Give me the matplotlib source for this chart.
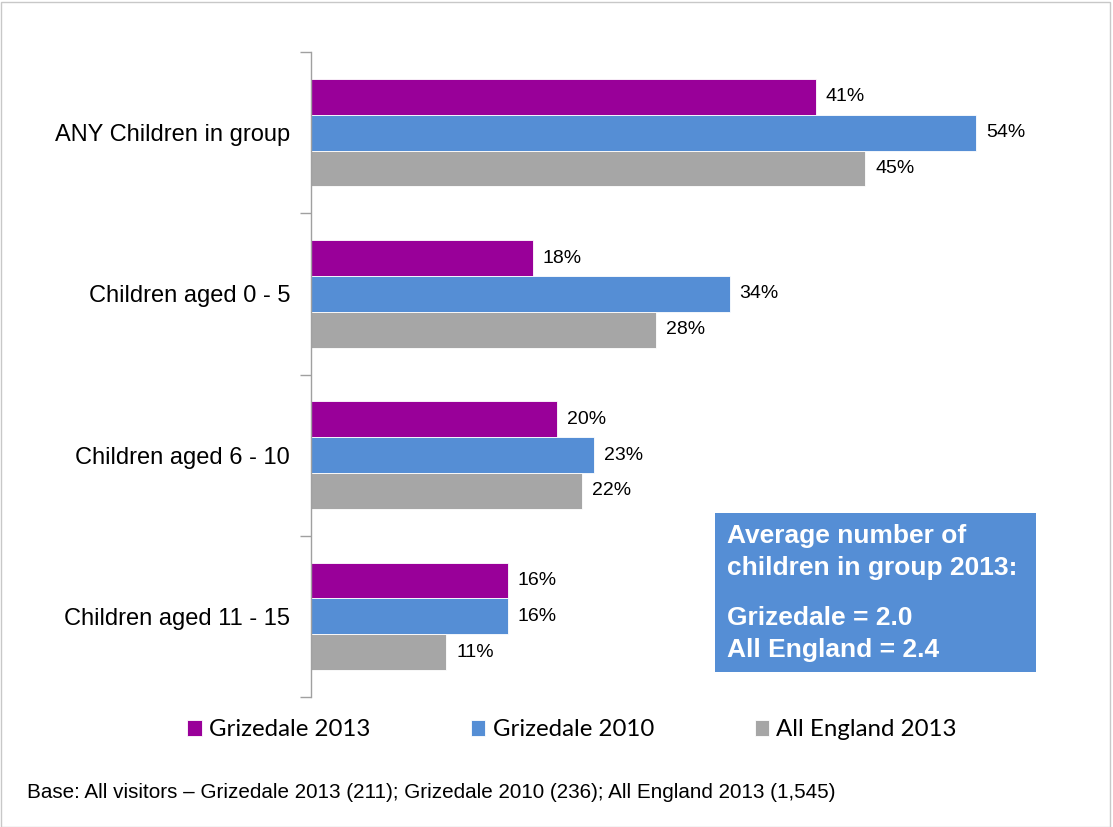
import matplotlib
matplotlib.use("Agg")
import matplotlib.pyplot as plt
from matplotlib.patches import Rectangle
import numpy as np

categories = ["ANY Children in group", "Children aged 0 - 5", "Children aged 6 - 10", "Children aged 11 - 15"]
series_names = ["Grizedale 2013", "Grizedale 2010", "All England 2013"]
grizedale_2013 = [41, 18, 20, 16]
grizedale_2010 = [54, 34, 23, 16]
all_england_2013 = [45, 28, 22, 11]
colors = ["#990099", "#558ED5", "#A6A6A6"]

plt.rcParams['font.family'] = ['Liberation Sans', 'DejaVu Sans']

fig = plt.figure(figsize=(11.13, 8.27), dpi=100)
W, H = 1113, 827
ax = fig.add_axes([311 / W, 1 - 697 / H, (1050 - 311) / W, (697 - 52) / H])

y = np.arange(len(categories))
h = 0.222
for i, (vals, c) in enumerate(zip([grizedale_2013, grizedale_2010, all_england_2013], colors)):
    pos = y + (i - 1) * h
    ax.barh(pos, vals, height=h, color=c, edgecolor='white', linewidth=0.6, label=series_names[i])
    for p, v in zip(pos, vals):
        ax.text(v + 0.8, p, f"{v}%", va='center', ha='left', fontsize=14, color='black')

ax.set_xlim(0, 60)
ax.set_ylim(3.5, -0.5)
ax.set_xticks([])
ax.set_yticks(np.arange(-0.5, 4, 1))
ax.set_yticklabels([])
ax.set_yticks(y, minor=True)
ax.set_yticklabels(categories, minor=True, fontsize=17)
ax.tick_params(axis='y', which='major', length=8, color='#A0A0A0', width=1)
ax.tick_params(axis='y', which='minor', length=0, pad=15)
for s in ['top', 'right', 'bottom']:
    ax.spines[s].set_visible(False)
ax.spines['left'].set_color('#A0A0A0')
ax.spines['left'].set_linewidth(1)

# Info box
box = Rectangle((715 / W, 1 - 672 / H), (1036 - 715) / W, (672 - 513) / H,
                transform=fig.transFigure, facecolor='#558ED5', edgecolor='none', zorder=5)
fig.patches.append(box)
box_lines = [("Average number of", 536), ("children in group 2013:", 568),
             ("Grizedale = 2.0", 618), ("All England = 2.4", 650)]
for txt, yy in box_lines:
    fig.text(727 / W, 1 - yy / H, txt, transform=fig.transFigure,
             color='white', fontsize=19, fontweight='bold', va='center', ha='left', zorder=6)

# Legend
handles, labels = ax.get_legend_handles_labels()
leg = fig.legend(handles, labels, loc='center', bbox_to_anchor=(572 / W, 1 - 730 / H), ncol=3,
                 frameon=False, prop={'family': 'Lato', 'size': 17.3}, handlelength=0.6,
                 handleheight=0.6, columnspacing=4.2, handletextpad=0.3)

fig.text(27 / W, 1 - 793 / H, "Base: All visitors \u2013 Grizedale 2013 (211); Grizedale 2010 (236); All England 2013 (1,545)",
         fontsize=14.9, va='center', ha='left')

# outer border
border = Rectangle((0.5 / W, 0.5 / H), (W - 4) / W, (H - 2) / H, transform=fig.transFigure,
                   facecolor='none', edgecolor='#C8C8C8', linewidth=1)
fig.patches.append(border)

fig.savefig("out.png", dpi=100)
